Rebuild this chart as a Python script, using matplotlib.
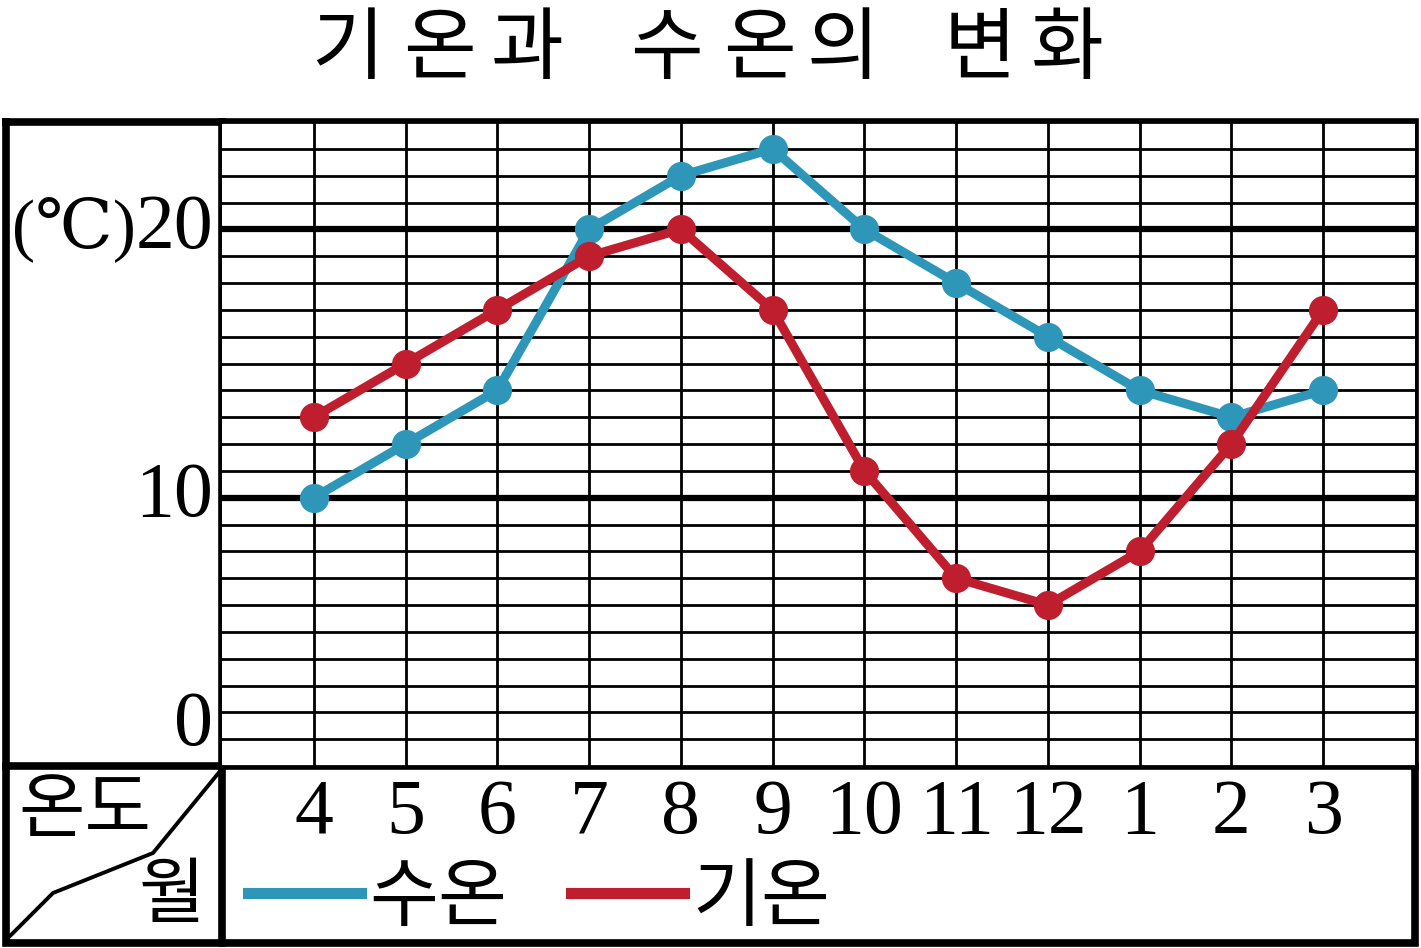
import matplotlib
matplotlib.use('Agg')
import matplotlib.pyplot as plt
import matplotlib.transforms as mtransforms
from matplotlib.lines import Line2D

months = ['4', '5', '6', '7', '8', '9', '10', '11', '12', '1', '2', '3']
water_temp = [10, 12, 14, 20, 22, 23, 20, 18, 16, 14, 13, 14]   # 수온
air_temp = [13, 15, 17, 19, 20, 17, 11, 7, 6, 8, 12, 17]        # 기온

BLUE = '#2e96b9'
RED = '#be1e2e'
KR = ['Noto Sans CJK KR', 'DejaVu Sans']
SERIF = ['Liberation Serif', 'DejaVu Serif']

W, H = 1421, 948
fig = plt.figure(figsize=(W / 100, H / 100), dpi=100)

# background axes in pixel units for the table frame
bg = fig.add_axes([0, 0, 1, 1])
bg.set_xlim(0, W)
bg.set_ylim(H, 0)
bg.axis('off')
lw_frame = 5.5
bg.plot([6, 1415, 1415, 6, 6], [122, 122, 943, 943, 122], color='black', lw=lw_frame, solid_joinstyle='miter')
bg.plot([222, 222], [122, 943], color='black', lw=lw_frame)
bg.plot([6, 1415], [766, 766], color='black', lw=lw_frame)
bg.plot([8, 53, 153, 221], [938, 893, 853, 770], color='black', lw=2.8)
bg.text(85, 812, '온도', family=KR, fontsize=52, ha='center', va='center')
bg.text(172, 896, '월', family=KR, fontsize=52, ha='center', va='center')

# title, letter-spaced
title = '기온과수온의변화'
title_x = [348, 439, 527, 666, 759, 843, 980, 1067]
for ch, cx in zip(title, title_x):
    bg.text(cx, 50, ch, family=KR, fontsize=57, ha='center', va='center')

# main plot area
x0, x1, y0, y1 = 222, 1415, 766, 122
ax = fig.add_axes([x0 / W, 1 - y0 / H, (x1 - x0) / W, (y0 - y1) / H])
ax.set_xlim(-1, 12)
ax.set_ylim(0, 24)
for s in ax.spines.values():
    s.set_visible(False)
ax.set_xticks(range(len(months)))
ax.set_yticks(range(0, 25))
ax.tick_params(length=0, labelbottom=False, labelleft=False)
ax.grid(True, color='black', lw=2.0)
for v in (10, 20):
    ax.axhline(v, color='black', lw=4.5)

x = list(range(len(months)))
ax.plot(x, water_temp, color=BLUE, lw=6.5, marker='o', ms=20, zorder=3)
ax.plot(x, air_temp, color=RED, lw=6.5, marker='o', ms=20, zorder=4)

# month labels in the bottom row
tr = mtransforms.blended_transform_factory(ax.transData, ax.transAxes)
for i, m in enumerate(months):
    ax.text(i, -0.0744, m, family=SERIF, fontsize=56, ha='center', va='center',
            transform=tr, clip_on=False)

# y labels in the left column
tr_y = mtransforms.blended_transform_factory(ax.transAxes, ax.transData)
for val, lab in [(20, '20'), (10, '10'), (1.5, '0')]:
    ax.text(-0.0075, val, lab, family=SERIF, fontsize=56, ha='right', va='center',
            transform=tr_y, clip_on=False)
ax.text(-0.072, 20, '(℃)', family=SERIF, fontsize=50, ha='right', va='center',
        transform=tr_y, clip_on=False)

handles = [Line2D([], [], color=BLUE, lw=8), Line2D([], [], color=RED, lw=8)]
fig.legend(handles, ['수온', '기온'], loc='center left',
           bbox_to_anchor=(248 / W, 1 - 898 / H), ncol=2, frameon=False,
           prop={'family': KR, 'size': 54}, handlelength=1.5, handletextpad=0.12,
           columnspacing=0.85, borderaxespad=0, borderpad=0)

fig.savefig('out.png', dpi=100)
